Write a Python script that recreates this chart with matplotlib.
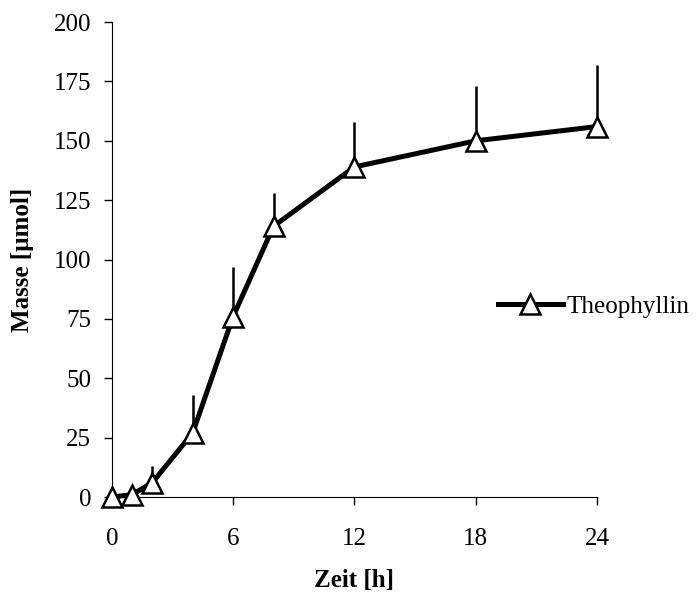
import numpy as np
import matplotlib.pyplot as plt
from matplotlib.lines import Line2D

# Theophyllin release over time
zeit = [0, 1, 2, 4, 6, 8, 12, 18, 24]
masse = [0, 1, 6, 27, 76, 114, 139, 150, 156]
sd_oben = [0, 0, 7, 16, 21, 14, 19, 23, 26]

plt.rcParams['font.family'] = ['Liberation Serif', 'DejaVu Serif']

fig = plt.figure(figsize=(6.99, 5.97), dpi=100)
ax = fig.add_axes([0.160, 0.1675, 0.694, 0.7955])

ax.errorbar(zeit, masse, yerr=[np.zeros(len(sd_oben)), sd_oben], fmt='none',
            ecolor='black', elinewidth=1.8, capsize=0, zorder=2)
ax.plot(zeit, masse, color='black', lw=3.6, marker='^', markersize=14,
        markerfacecolor='white', markeredgecolor='black', markeredgewidth=1.8,
        solid_joinstyle='round', zorder=3)

ax.set_xlim(0, 24)
ax.set_ylim(0, 200)
ax.set_xticks([0, 6, 12, 18, 24])
ax.set_yticks(np.arange(0, 201, 25))
ax.tick_params(axis='both', direction='out', length=6, width=1, labelsize=18)
ax.tick_params(axis='y', pad=9)
ax.tick_params(axis='x', pad=16)
for s in ['top', 'right']:
    ax.spines[s].set_visible(False)
for art in ax.get_children():
    art.set_clip_on(False)

ax.set_xlabel('Zeit [h]', fontsize=18, fontweight='bold', labelpad=14)
ax.set_ylabel('Masse [µmol]', fontsize=18, fontweight='bold', labelpad=14)

handle = Line2D([], [], color='black', lw=3.6, marker='^', markersize=14,
                markerfacecolor='white', markeredgecolor='black', markeredgewidth=1.8)
fig.legend(handles=[handle], labels=['Theophyllin'], loc='center left',
           bbox_to_anchor=(0.68, 0.487), frameon=False, fontsize=18,
           handlelength=2.6, handletextpad=0.15)

fig.savefig('out.png', dpi=100)
